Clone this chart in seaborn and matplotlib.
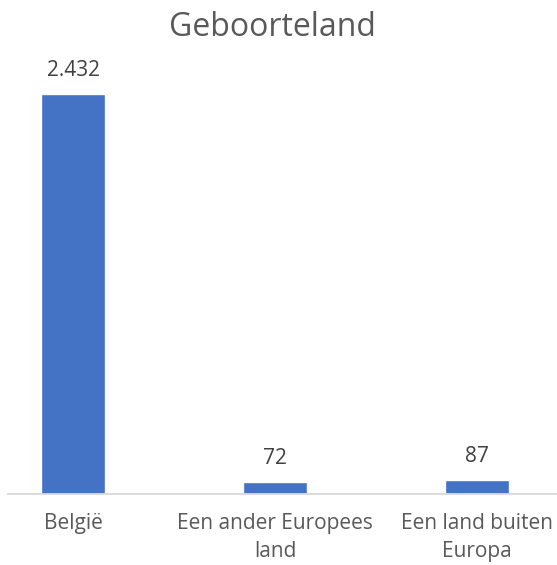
import matplotlib
matplotlib.use("Agg")
import matplotlib.pyplot as plt
import seaborn as sns
import pandas as pd

categories = ["België", "Een ander Europees\nland", "Een land buiten\nEuropa"]
values = [2432, 72, 87]
value_labels = ["2.432", "72", "87"]
title = "Geboorteland"

sns.set_theme(style="white")
plt.rcParams['font.family'] = ['Open Sans', 'DejaVu Sans']

text_color = "#595959"
bar_color = "#4472C4"

W, H = 557, 565
fig = plt.figure(figsize=(W / 100, H / 100), dpi=100)
ax = fig.add_axes([8 / W, 1 - 494 / H, 1 - 8 / W, (494 - 60) / H])

df = pd.DataFrame({"cat": categories, "val": values})
sns.barplot(data=df, x="cat", y="val", color=bar_color, width=0.32, ax=ax, saturation=1)

px_per_unit = 202
ax.set_xlim(-(73 - 8) / px_per_unit, (557 - 73) / px_per_unit)
ax.set_ylim(0, 2432 * 434 / 400)

for i, (v, lab) in enumerate(zip(values, value_labels)):
    ax.annotate(lab, (i, v), xytext=(0, 17), textcoords="offset points",
                ha="center", va="center", fontsize=15, color="#404040")

for s in ["top", "right", "left"]:
    ax.spines[s].set_visible(False)
ax.spines["bottom"].set_color("#D9D9D9")
ax.spines["bottom"].set_linewidth(1.3)
ax.set_yticks([])
ax.set_xlabel("")
ax.set_ylabel("")
ax.tick_params(axis="x", length=0, pad=14, labelsize=15, labelcolor=text_color)
for t in ax.get_xticklabels():
    t.set_linespacing(1.4)

fig.text(272 / W, 1 - 27 / H, title, ha="center", va="center", fontsize=23, color=text_color)

fig.savefig("out.png", dpi=100)
